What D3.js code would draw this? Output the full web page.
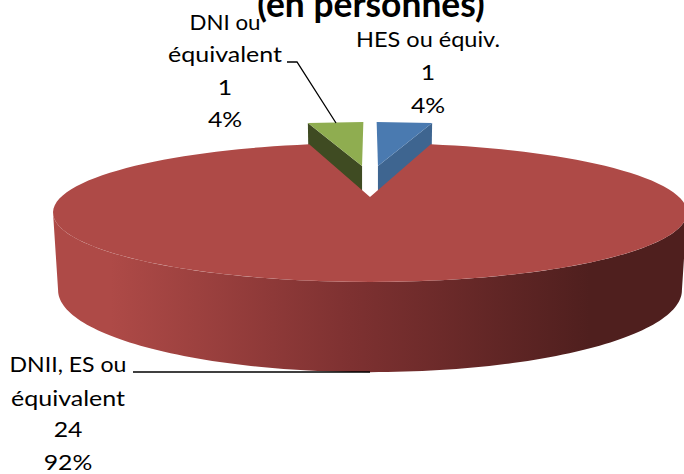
<!DOCTYPE html>
<html>
<head>
  <title>Pie 3D</title>
  <script src="https://d3js.org/d3.v7.min.js"></script>
  <style>
    html, body { margin: 0; padding: 0; background: #fff; }
    svg { display: block; }
    text { font-family: Lato, "Open Sans", sans-serif; fill: #000; }
  </style>
</head>
<body>
  <div id="chart"></div>
  <script>
    // chart values
    const categories = ["HES ou équiv.", "DNII, ES ou équivalent", "DNI ou équivalent"];
    const values = [1, 24, 1];
    const percents = ["4%", "92%", "4%"];
    const title = "(en personnes)";

    const width = 684, height = 474;
    const cx = 370;
    const R = 309;
    const persp = 0.223;           // perspective strength
    const D = R / persp;
    const topPlane = { y0: 197, k: 66 / R, scale: 1 };
    const bottomPlane = { y0: 272, k: 77.8 / R, scale: 0.984 };
    const stretch = 1.18;          // the text is wider than it is tall in the original

    const colors = [
      { top: "#4a7ab0", side: "#3e6590" },
      { top: "#ae4a47", side: "#ae4a47" },
      { top: "#8fad50", side: "#3f4b22" }
    ];
    // how far a slice is pulled out from the middle (along the pie plane)
    const pulled = [[8.9, 162], [0, 0], [-8.9, 162]];

    const svg = d3.select("#chart").append("svg")
      .attr("width", width)
      .attr("height", height);

    const arcs = d3.pie().sort(null).startAngle(0).endAngle(2 * Math.PI)(values);

    function project(u, v, plane) {
      const s = 1 / (1 + v / D);
      return [cx + u * s * plane.scale, plane.y0 - plane.k * v * s];
    }

    function rimPoint(a, off, plane) {
      return project(off[0] + R * Math.sin(a), off[1] + R * Math.cos(a), plane);
    }

    function rim(a0, a1, off, plane) {
      const n = 120;
      return d3.range(n + 1).map(i => rimPoint(a0 + (a1 - a0) * i / n, off, plane));
    }

    const line = d3.line().curve(d3.curveLinear);

    const defs = svg.append("defs");
    const grad = defs.append("linearGradient")
      .attr("id", "wall")
      .attr("gradientUnits", "userSpaceOnUse")
      .attr("x1", 110).attr("x2", 590)
      .attr("y1", 0).attr("y2", 0);
    grad.append("stop").attr("offset", 0).attr("stop-color", "#ae4a47");
    grad.append("stop").attr("offset", 0.5).attr("stop-color", "#7e3131");
    grad.append("stop").attr("offset", 1).attr("stop-color", "#4f1f1e");

    // small pulled out slices first, the big one sits on top of them
    [0, 2].forEach(i => {
      const d = arcs[i], off = pulled[i];
      const edgeAngle = i === 0 ? d.endAngle : d.startAngle;
      const apexTop = project(off[0], off[1], topPlane);
      const apexBottom = project(off[0], off[1], bottomPlane);
      svg.append("path")
        .attr("d", line([apexTop, rimPoint(edgeAngle, off, topPlane), rimPoint(edgeAngle, off, bottomPlane), apexBottom]) + "Z")
        .attr("fill", colors[i].side);
      // back edge of these is flat in the original
      svg.append("path")
        .attr("d", line([apexTop, rimPoint(d.startAngle, off, topPlane), rimPoint(d.endAngle, off, topPlane)]) + "Z")
        .attr("fill", colors[i].top);
    });

    // wall of the big slice
    const big = arcs[1];
    const sideAngle = Math.acos(-persp);
    const wallTop = rim(sideAngle, 2 * Math.PI - sideAngle, pulled[1], topPlane);
    const wallBottom = rim(2 * Math.PI - sideAngle, sideAngle, pulled[1], bottomPlane);
    svg.append("path")
      .attr("d", line(wallTop.concat(wallBottom)) + "Z")
      .attr("fill", "url(#wall)");

    svg.append("path")
      .attr("d", line([project(0, 0, topPlane)].concat(rim(big.startAngle, big.endAngle, pulled[1], topPlane))) + "Z")
      .attr("fill", colors[1].top);

    // leader lines
    svg.append("path")
      .attr("d", line([[287, 62], [297, 62], [336, 123]]))
      .attr("fill", "none").attr("stroke", "#000").attr("stroke-width", 1.3);
    svg.append("path")
      .attr("d", line([[133, 372], [370, 372]]))
      .attr("fill", "none").attr("stroke", "#000").attr("stroke-width", 1.6);

    // labels, third item is the width the row takes in the original
    const labelSets = [
      { x: 428, rows: [[categories[0], 47, 144], [values[0], 80], [percents[0], 113]] },
      { x: 225, rows: [["DNI ou", 30, 71], ["équivalent", 62, 114], [values[2], 95], [percents[2], 127]] },
      { x: 68, rows: [["DNII, ES ou", 372, 117], ["équivalent", 406, 114], [values[1], 437], [percents[1], 470]] }
    ];
    labelSets.forEach(set => {
      set.rows.forEach(r => {
        const t = svg.append("text")
          .attr("text-anchor", "middle")
          .style("font-size", "21px")
          .text(r[0]);
        const sx = r[2] ? r[2] / t.node().getComputedTextLength() : stretch;
        t.attr("transform", `translate(${set.x},${r[1]}) scale(${sx},1)`);
      });
    });

    svg.append("text")
      .attr("transform", `translate(371,17) scale(${stretch},1.2)`)
      .attr("text-anchor", "middle")
      .style("font-size", "30px")
      .style("font-weight", "bold")
      .text(title);
  </script>
</body>
</html>
